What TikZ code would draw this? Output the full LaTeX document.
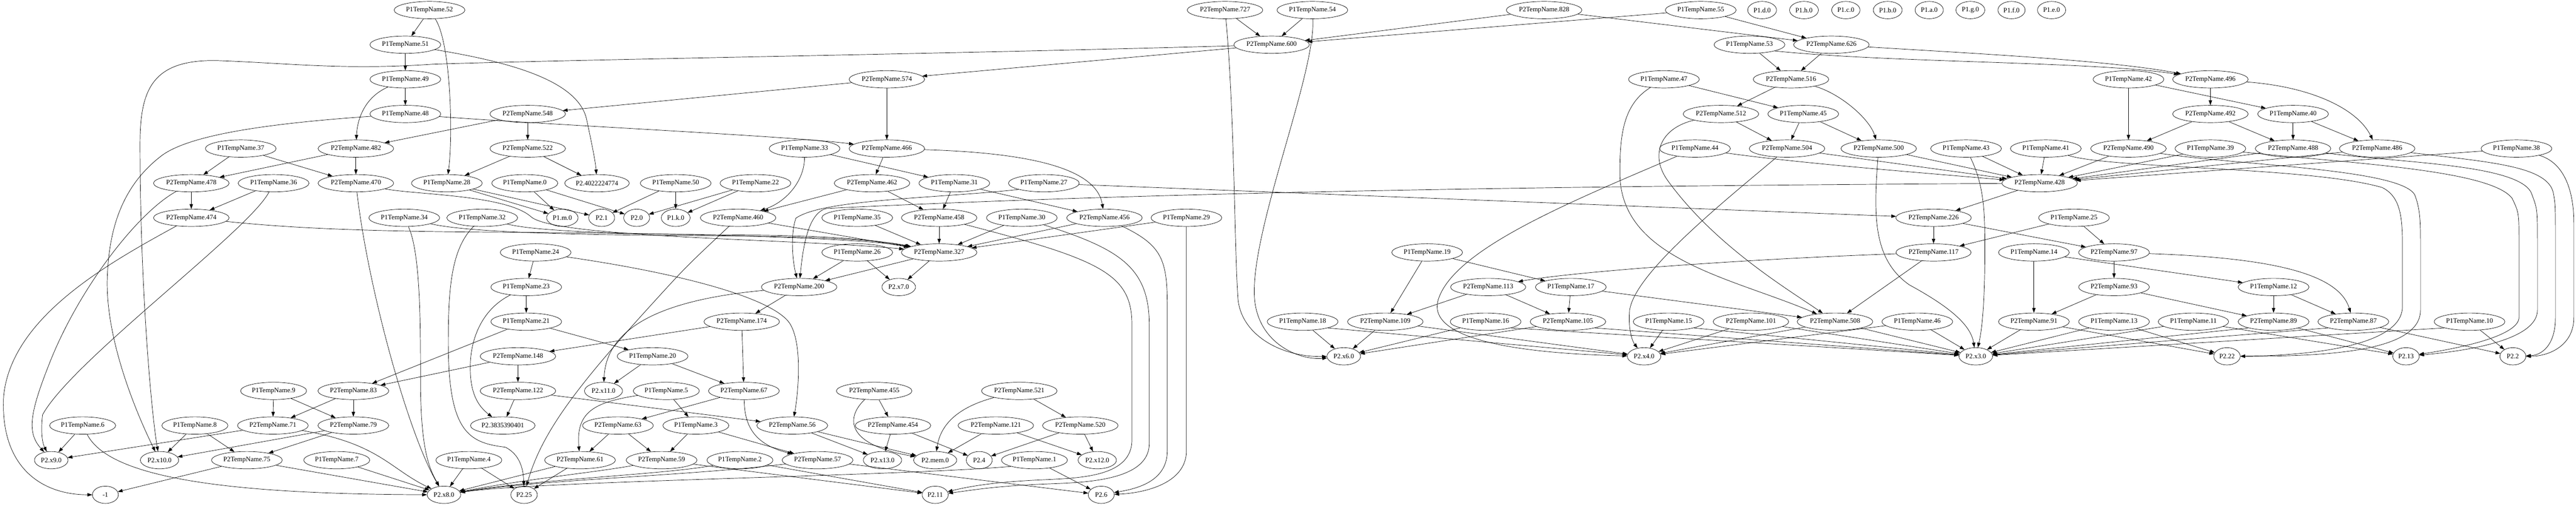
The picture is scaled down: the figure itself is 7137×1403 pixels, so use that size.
\documentclass[tikz,border=0pt]{standalone}
\usepackage{fontspec}
\setmainfont{Liberation Serif}
\usetikzlibrary{shapes.geometric, arrows.meta}

\begin{document}
\begin{tikzpicture}[x=0.75pt, y=-0.75pt,
	vx/.style={draw, ellipse, line width=0.75pt, inner xsep=3.3pt, inner ysep=1pt, minimum width=54pt, minimum height=36pt, font=\fontsize{14pt}{16pt}\selectfont},
	link/.style={line width=0.75pt, -{Triangle[length=10pt,width=7pt]}}]
	\useasboundingbox (0,0) rectangle (7137,1403);

	%rank 0
	\node[vx] (p1n52)  at (1190,28) {P1TempName.52};
	\node[vx] (p2n727) at (3394,28) {P2TempName.727};
	\node[vx] (p1n54)  at (3636,28) {P1TempName.54};
	\node[vx] (p2n828) at (4278,28) {P2TempName.828};
	\node[vx] (p1n55)  at (4712,28) {P1TempName.55};
	\node[vx] (ld) at (4882,28) {P1.d.0};
	\node[vx] (lh) at (4998,28) {P1.h.0};
	\node[vx] (lc) at (5114,28) {P1.c.0};
	\node[vx] (lb) at (5230,28) {P1.b.0};
	\node[vx] (la) at (5345,28) {P1.a.0};
	\node[vx] (lg) at (5459,28) {P1.g.0};
	\node[vx] (lf) at (5573,28) {P1.f.0};
	\node[vx] (le) at (5684,28) {P1.e.0};

	%rank 1
	\node[vx] (p1n51)  at (1123,124) {P1TempName.51};
	\node[vx] (p2n600) at (3523,124) {P2TempName.600};
	\node[vx] (p1n53)  at (4847,124) {P1TempName.53};
	\node[vx] (p2n626) at (5074,124) {P2TempName.626};

	%rank 2
	\node[vx] (p1n49)  at (1123,220) {P1TempName.49};
	\node[vx] (p2n574) at (2457,220) {P2TempName.574};
	\node[vx] (p1n47)  at (4610,220) {P1TempName.47};
	\node[vx] (p2n516) at (4962,220) {P2TempName.516};
	\node[vx] (p1n42)  at (5897,220) {P1TempName.42};
	\node[vx] (p2n496) at (6124,220) {P2TempName.496};

	%rank 3
	\node[vx] (p1n48)  at (1123,316) {P1TempName.48};
	\node[vx] (p2n548) at (1462,316) {P2TempName.548};
	\node[vx] (p2n512) at (4768,316) {P2TempName.512};
	\node[vx] (p1n45)  at (4996,316) {P1TempName.45};
	\node[vx] (p2n492) at (6124,316) {P2TempName.492};
	\node[vx] (p1n40)  at (6353,316) {P1TempName.40};

	%rank 4
	\node[vx] (p1n37)  at (667,412)  {P1TempName.37};
	\node[vx] (p2n482) at (986,412)  {P2TempName.482};
	\node[vx] (p2n522) at (1462,412) {P2TempName.522};
	\node[vx] (p1n33)  at (2229,412) {P1TempName.33};
	\node[vx] (p2n466) at (2457,412) {P2TempName.466};
	\node[vx] (p1n44)  at (4696,412) {P1TempName.44};
	\node[vx] (p2n504) at (4951,412) {P2TempName.504};
	\node[vx] (p2n500) at (5205,412) {P2TempName.500};
	\node[vx] (p1n43)  at (5447,412) {P1TempName.43};
	\node[vx] (p1n41)  at (5668,412) {P1TempName.41};
	\node[vx] (p2n490) at (5897,412) {P2TempName.490};
	\node[vx] (p1n39)  at (6124,412) {P1TempName.39};
	\node[vx] (p2n488) at (6353,412) {P2TempName.488};
	\node[vx] (p2n486) at (6586,412) {P2TempName.486};
	\node[vx] (p1n38)  at (6972,412) {P1TempName.38};

	%rank 5
	\node[vx] (p2n478) at (530,508)  {P2TempName.478};
	\node[vx] (p1n36)  at (758,508)  {P1TempName.36};
	\node[vx] (p2n470) at (986,508)  {P2TempName.470};
	\node[vx] (p1n28)  at (1238,508) {P1TempName.28};
	\node[vx] (p1n0)   at (1454,508) {P1TempName.0};
	\node[vx] (l4022)  at (1654,508) {P2.4022224774};
	\node[vx] (p1n50)  at (1872,508) {P1TempName.50};
	\node[vx] (p1n22)  at (2093,508) {P1TempName.22};
	\node[vx] (p2n462) at (2416,508) {P2TempName.462};
	\node[vx] (p1n31)  at (2644,508) {P1TempName.31};
	\node[vx] (p1n27)  at (2892,508) {P1TempName.27};
	\node[vx] (p2n428) at (5651,508) {P2TempName.428};

	%rank 6
	\node[vx] (p2n474) at (530,604)  {P2TempName.474};
	\node[vx] (p1n34)  at (1120,604) {P1TempName.34};
	\node[vx] (p1n32)  at (1336,604) {P1TempName.32};
	\node[vx] (lm) at (1558,604) {P1.m.0};
	\node[vx] (l1) at (1667,604) {P2.1};
	\node[vx] (l0) at (1764,604) {P2.0};
	\node[vx] (lk) at (1872,604) {P1.k.0};
	\node[vx] (p2n460) at (2045,604) {P2TempName.460};
	\node[vx] (p1n35)  at (2375,604) {P1TempName.35};
	\node[vx] (p2n458) at (2602,604) {P2TempName.458};
	\node[vx] (p1n30)  at (2831,604) {P1TempName.30};
	\node[vx] (p2n456) at (3060,604) {P2TempName.456};
	\node[vx] (p1n29)  at (3287,604) {P1TempName.29};
	\node[vx] (p2n226) at (5357,604) {P2TempName.226};
	\node[vx] (p1n25)  at (5746,604) {P1TempName.25};

	%rank 7
	\node[vx] (p1n24)  at (1484,700) {P1TempName.24};
	\node[vx] (p1n26)  at (2375,700) {P1TempName.26};
	\node[vx] (p2n327) at (2602,700) {P2TempName.327};
	\node[vx] (p1n19)  at (3954,700) {P1TempName.19};
	\node[vx] (p2n117) at (5357,700) {P2TempName.117};
	\node[vx] (p1n14)  at (5635,700) {P1TempName.14};
	\node[vx] (p2n97)  at (5857,700) {P2TempName.97};

	%rank 8
	\node[vx] (p1n23)  at (1458,796) {P1TempName.23};
	\node[vx] (p2n200) at (2214,796) {P2TempName.200};
	\node[vx] (lx7)    at (2490,796) {P2.x7.0};
	\node[vx] (p2n113) at (4123,796) {P2TempName.113};
	\node[vx] (p1n17)  at (4352,796) {P1TempName.17};
	\node[vx] (p2n93)  at (5857,796) {P2TempName.93};
	\node[vx] (p1n12)  at (6299,796) {P1TempName.12};

	%rank 9
	\node[vx] (p1n21)  at (1458,892) {P1TempName.21};
	\node[vx] (p2n174) at (2055,892) {P2TempName.174};
	\node[vx] (p1n18)  at (3609,892) {P1TempName.18};
	\node[vx] (p2n109) at (3838,892) {P2TempName.109};
	\node[vx] (p1n16)  at (4116,892) {P1TempName.16};
	\node[vx] (p2n105) at (4344,892) {P2TempName.105};
	\node[vx] (p1n15)  at (4623,892) {P1TempName.15};
	\node[vx] (p2n101) at (4851,892) {P2TempName.101};
	\node[vx] (p2n508) at (5084,892) {P2TempName.508};
	\node[vx] (p1n46)  at (5312,892) {P1TempName.46};
	\node[vx] (p2n91)  at (5635,892) {P2TempName.91};
	\node[vx] (p1n13)  at (5857,892) {P1TempName.13};
	\node[vx] (p1n11)  at (6077,892) {P1TempName.11};
	\node[vx] (p2n89)  at (6299,892) {P2TempName.89};
	\node[vx] (p2n87)  at (6520,892) {P2TempName.87};
	\node[vx] (p1n10)  at (6842,892) {P1TempName.10};

	%rank 10
	\node[vx] (p2n148) at (1435,988) {P2TempName.148};
	\node[vx] (p1n20)  at (1808,988) {P1TempName.20};
	\node[vx] (lx6) at (3723,988) {P2.x6.0};
	\node[vx] (lx4) at (4555,988) {P2.x4.0};
	\node[vx] (lx3) at (5474,988) {P2.x3.0};
	\node[vx] (l22) at (6170,988) {P2.22};
	\node[vx] (l13) at (6666,988) {P2.13};
	\node[vx] (l2)  at (6962,988) {P2.2};

	%rank 11
	\node[vx] (p1n9)   at (758,1084)  {P1TempName.9};
	\node[vx] (p2n83)  at (979,1084)  {P2TempName.83};
	\node[vx] (p2n122) at (1435,1084) {P2TempName.122};
	\node[vx] (lx11)   at (1672,1084) {P2.x11.0};
	\node[vx] (p1n5)   at (1846,1084) {P1TempName.5};
	\node[vx] (p2n67)  at (2061,1084) {P2TempName.67};
	\node[vx] (p2n455) at (2422,1084) {P2TempName.455};
	\node[vx] (p2n521) at (2824,1084) {P2TempName.521};

	%rank 12
	\node[vx] (p1n6)   at (229,1180)  {P1TempName.6};
	\node[vx] (p1n8)   at (540,1180)  {P1TempName.8};
	\node[vx] (p2n71)  at (756,1180)  {P2TempName.71};
	\node[vx] (p2n79)  at (979,1180)  {P2TempName.79};
	\node[vx] (l3835)  at (1393,1180) {P2.3835390401};
	\node[vx] (p2n63)  at (1712,1180) {P2TempName.63};
	\node[vx] (p1n3)   at (1928,1180) {P1TempName.3};
	\node[vx] (p2n56)  at (2195,1180) {P2TempName.56};
	\node[vx] (p2n454) at (2474,1180) {P2TempName.454};
	\node[vx] (p2n121) at (2759,1180) {P2TempName.121};
	\node[vx] (p2n520) at (2993,1180) {P2TempName.520};

	%rank 13
	\node[vx] (lx9)   at (142,1276)  {P2.x9.0};
	\node[vx] (lx10)  at (442,1276)  {P2.x10.0};
	\node[vx] (p2n75) at (684,1276)  {P2TempName.75};
	\node[vx] (p1n7)  at (933,1276)  {P1TempName.7};
	\node[vx] (p1n4)  at (1299,1276) {P1TempName.4};
	\node[vx] (p2n61) at (1607,1276) {P2TempName.61};
	\node[vx] (p2n59) at (1833,1276) {P2TempName.59};
	\node[vx] (p1n2)  at (2050,1276) {P1TempName.2};
	\node[vx] (p2n57) at (2265,1276) {P2TempName.57};
	\node[vx] (lx13)  at (2445,1276) {P2.x13.0};
	\node[vx] (lmem)  at (2591,1276) {P2.mem.0};
	\node[vx] (l4)    at (2713,1276) {P2.4};
	\node[vx] (p1n1)  at (2866,1276) {P1TempName.1};
	\node[vx] (lx12)  at (3040,1276) {P2.x12.0};

	%rank 14
	\node[vx] (lneg) at (292,1372)  {-1};
	\node[vx] (lx8)  at (1230,1372) {P2.x8.0};
	\node[vx] (l25)  at (1452,1372) {P2.25};
	\node[vx] (l11)  at (2591,1372) {P2.11};
	\node[vx] (l6)   at (3051,1372) {P2.6};

	%arrows - top left chain
	\draw[link] (p1n52) -- (p1n51);
	\draw[link] (p1n52) .. controls (1250,120) and (1255,380) .. (p1n28);
	\draw[link] (p1n51) -- (p1n49);
	\draw[link] (p1n51) .. controls (1400,170) and (1600,220) .. (1625,330) .. controls (1640,400) and (1650,450) .. (l4022);
	\draw[link] (p1n49) -- (p1n48);
	\draw[link] (p1n49) .. controls (1010,270) and (990,330) .. (p2n482);
	\draw[link] (p1n48) .. controls (700,345) and (520,380) .. (450,430) .. controls (330,520) and (300,650) .. (297,780) .. controls (295,950) and (380,1150) .. (lx10);
	\draw[link] (p1n48) .. controls (1500,345) and (2200,378) .. (p2n466);
	\draw[link] (p2n548) -- (p2n482);
	\draw[link] (p2n548) -- (p2n522);
	\draw[link] (p2n522) -- (p1n28);
	\draw[link] (p2n522) -- (l4022);
	\draw[link] (p2n482) -- (p2n478);
	\draw[link] (p2n482) -- (p2n470);
	\draw[link] (p1n37) -- (p2n478);
	\draw[link] (p1n37) -- (p2n470);
	\draw[link] (p2n478) -- (p2n474);
	\draw[link] (p2n478) .. controls (380,590) and (220,800) .. (140,1000) .. controls (80,1150) and (75,1200) .. (lx9);
	\draw[link] (p1n36) -- (p2n474);
	\draw[link] (p1n36) .. controls (690,640) and (200,1000) .. (118,1150) .. controls (112,1200) and (118,1230) .. (lx9);
	\draw[link] (p2n474) .. controls (300,730) and (30,880) .. (10,1100) .. controls (0,1300) and (120,1372) .. (lneg);

	%arrows - into P2TempName.327 from the left
	\draw[link] (p2n474) .. controls (800,632) and (1000,642) .. (1400,644) .. controls (2000,648) and (2400,662) .. (p2n327);
	\draw[link] (p1n34) .. controls (1300,645) and (1600,652) .. (2000,654) .. controls (2300,656) and (2450,668) .. (p2n327);
	\draw[link] (p1n32) .. controls (1500,645) and (1800,650) .. (2100,652) .. controls (2350,655) and (2450,670) .. (p2n327);
	\draw[link] (p2n470) .. controls (1150,540) and (1400,540) .. (1470,600) .. controls (1530,660) and (2200,662) .. (p2n327);
	\draw[link] (p2n470) .. controls (1020,800) and (1130,1200) .. (lx8);
	\draw[link] (p1n34) .. controls (1165,700) and (1165,900) .. (1165,1050) .. controls (1165,1250) and (1190,1300) .. (lx8);
	\draw[link] (p1n32) .. controls (1250,690) and (1242,800) .. (1242,950) .. controls (1242,1200) and (1300,1228) .. (1400,1240) .. controls (1440,1260) and (1450,1300) .. (l25);

	%arrows - P1 leaves
	\draw[link] (p1n28) -- (lm);
	\draw[link] (p1n28) -- (l1);
	\draw[link] (p1n0) -- (lm);
	\draw[link] (p1n0) -- (l0);
	\draw[link] (p1n50) -- (l1);
	\draw[link] (p1n50) -- (lk);
	\draw[link] (p1n22) -- (l0);
	\draw[link] (p1n22) -- (lk);

	%arrows - centre
	\draw[link] (p2n574) -- (p2n466);
	\draw[link] (p2n574) -- (p2n548);
	\draw[link] (p2n466) -- (p2n462);
	\draw[link] (p2n466) .. controls (2900,425) and (3040,480) .. (p2n456);
	\draw[link] (p1n33) -- (p1n31);
	\draw[link] (p1n33) .. controls (2229,500) and (2180,560) .. (p2n460);
	\draw[link] (p2n462) -- (p2n458);
	\draw[link] (p2n462) -- (p2n460);
	\draw[link] (p1n31) -- (p2n458);
	\draw[link] (p1n31) -- (p2n456);
	\draw[link] (p1n27.south west) .. controls (2600,550) and (2280,552) .. (2205,605) .. controls (2190,650) and (2195,720) .. (p2n200);
	\draw[link] (p1n27) -- (p2n226);
	\draw[link] (p2n428) .. controls (4500,515) and (3300,528) .. (2290,578) .. controls (2240,590) and (2225,680) .. (p2n200);
	\draw[link] (p1n26) -- (p2n200);
	\draw[link] (p1n26) -- (lx7);
	\draw[link] (p2n327) -- (p2n200);
	\draw[link] (p2n327) -- (lx7);
	\draw[link] (p2n460) -- (p2n327);
	\draw[link] (p1n35) -- (p2n327);
	\draw[link] (p2n458) -- (p2n327);
	\draw[link] (p1n30) -- (p2n327);
	\draw[link] (p2n456) -- (p2n327);
	\draw[link] (p1n29) -- (p2n327);
	\draw[link] (p2n460) .. controls (1900,740) .. (1800,850) .. controls (1600,1070) and (1500,1200) .. (l25);
	\draw[link] (p1n24) -- (p1n23);
	\draw[link] (p1n24) .. controls (1900,760) and (2150,830) .. (2190,900) .. controls (2225,960) and (2210,1100) .. (p2n56);
	\draw[link] (p1n23) -- (p1n21);
	\draw[link] (p1n23) .. controls (1330,860) and (1300,950) .. (1303,1030) .. controls (1305,1100) and (1330,1130) .. (l3835);
	\draw[link] (p1n21) -- (p1n20);
	\draw[link] (p1n21) -- (p2n83);
	\draw[link] (p2n148) -- (p2n83);
	\draw[link] (p2n148) -- (p2n122);
	\draw[link] (p2n174) -- (p2n148);
	\draw[link] (p2n174) -- (p2n67);
	\draw[link] (p2n200) -- (p2n174);
	\draw[link] (p2n200) .. controls (1850,830) and (1680,900) .. (lx11);
	\draw[link] (p1n20) -- (lx11);
	\draw[link] (p1n20) -- (p2n67);
	\draw[link] (p2n122) -- (l3835);
	\draw[link] (p2n122) -- (p2n56);
	\draw[link] (p1n5) -- (p1n3);
	\draw[link] (p1n5) .. controls (1650,1115) and (1595,1140) .. (p2n61);
	\draw[link] (p2n67) -- (p2n63);
	\draw[link] (p2n67) .. controls (2063,1170) and (2080,1230) .. (p2n57);
	\draw[link] (p2n63) -- (p2n61);
	\draw[link] (p2n63) -- (p2n59);
	\draw[link] (p1n3) -- (p2n59);
	\draw[link] (p1n3) -- (p2n57);
	\draw[link] (p2n56) -- (lx13);
	\draw[link] (p2n56) -- (lmem);
	\draw[link] (p2n455) -- (p2n454);
	\draw[link] (p2n455) .. controls (2350,1150) and (2330,1230) .. (lmem);
	\draw[link] (p2n521) -- (p2n520);
	\draw[link] (p2n521) .. controls (2650,1130) and (2605,1180) .. (lmem);
	\draw[link] (p2n454) -- (lx13);
	\draw[link] (p2n454) -- (l4);
	\draw[link] (p2n121) -- (lmem);
	\draw[link] (p2n121) -- (lx12);
	\draw[link] (p2n520) -- (l4);
	\draw[link] (p2n520) -- (lx12);

	%arrows - bottom row
	\draw[link] (p2n61) -- (lx8);
	\draw[link] (p2n61) -- (l25);
	\draw[link] (p1n4) -- (lx8);
	\draw[link] (p1n4) -- (l25);
	\draw[link] (p2n59) .. controls (1650,1310) and (1480,1325) .. (lx8);
	\draw[link] (p2n59) -- (l11);
	\draw[link] (p1n2) .. controls (1850,1315) and (1500,1328) .. (lx8);
	\draw[link] (p1n2) -- (l11);
	\draw[link] (p2n57) .. controls (1900,1320) and (1500,1330) .. (lx8);
	\draw[link] (p2n57) -- (l6);
	\draw[link] (p1n1.south west) .. controls (2500,1320) and (1500,1333) .. (lx8);
	\draw[link] (p1n1) -- (l6);

	%arrows - long drops to P2.11 and P2.6
	\draw[link] (p2n458) .. controls (3050,720) and (3136,760) .. (3136,900) -- (3136,1220) .. controls (3136,1320) and (3000,1325) .. (2900,1330) .. controls (2750,1336) and (2680,1350) .. (l11);
	\draw[link] (p1n30) .. controls (3100,690) and (3184,740) .. (3184,900) -- (3184,1230) .. controls (3184,1335) and (3000,1338) .. (2900,1342) .. controls (2750,1348) and (2690,1360) .. (l11);
	\draw[link] (p2n456) .. controls (3220,680) and (3234,720) .. (3234,850) -- (3234,1250) .. controls (3234,1335) and (3150,1355) .. (l6);
	\draw[link] (p1n29) .. controls (3287,700) .. (3287,800) -- (3287,1250) .. controls (3287,1345) and (3160,1368) .. (l6);

	%arrows - top centre
	\draw[link] (p2n600) -- (p2n574);
	\draw[link] (p2n600) .. controls (2600,150) and (1600,165) .. (1200,178) .. controls (950,195) and (800,175) .. (600,168) .. controls (420,165) and (388,250) .. (388,400) .. controls (388,800) and (420,1150) .. (lx10);
	\draw[link] (p1n54) -- (p2n600);
	\draw[link] (p1n54) .. controls (3645,200) and (3480,600) .. (3475,800) .. controls (3470,950) and (3600,1000) .. (lx6);
	\draw[link] (p2n727) -- (p2n600);
	\draw[link] (p2n727) .. controls (3420,300) and (3420,700) .. (3430,830) .. controls (3440,930) and (3550,990) .. (lx6);
	\draw[link] (p2n828) -- (p2n600);
	\draw[link] (p2n828) -- (p2n626);
	\draw[link] (p1n55) -- (p2n626);
	\draw[link] (p1n55) -- (p2n600);

	%arrows - top right
	\draw[link] (p1n53) -- (p2n516);
	\draw[link] (p1n53.south east) .. controls (5250,175) and (5800,170) .. (p2n496);
	\draw[link] (p2n626) -- (p2n516);
	\draw[link] (p2n626) .. controls (5500,150) and (5850,168) .. (p2n496);
	\draw[link] (p2n516) -- (p2n512);
	\draw[link] (p2n516) .. controls (5100,260) and (5180,330) .. (p2n500);
	\draw[link] (p1n47) -- (p1n45);
	\draw[link] (p1n47) .. controls (4495,290) and (4488,380) .. (4488,480) .. controls (4488,720) and (4800,770) .. (p2n508);
	\draw[link] (p2n512) -- (p2n504);
	\draw[link] (p2n512) .. controls (4600,355) and (4570,430) .. (4620,500) .. controls (4750,680) and (4950,800) .. (p2n508);
	\draw[link] (p1n45) -- (p2n504);
	\draw[link] (p1n45) -- (p2n500);
	\draw[link] (p1n44) .. controls (5000,455) and (5400,485) .. (p2n428);
	\draw[link] (p1n44) .. controls (4350,560) and (4030,690) .. (3985,830) .. controls (3950,940) and (4200,980) .. (lx4);
	\draw[link] (p2n504) -- (p2n428);
	\draw[link] (p2n504) .. controls (4750,580) and (4530,760) .. (4515,860) .. controls (4510,920) and (4525,950) .. (lx4);
	\draw[link] (p2n500) -- (p2n428);
	\draw[link] (p2n500) .. controls (5190,600) and (5190,720) .. (5290,790) .. controls (5400,850) and (5460,900) .. (lx3);
	\draw[link] (p1n43) -- (p2n428);
	\draw[link] (p1n43) .. controls (5500,520) and (5499,600) .. (5499,700) .. controls (5499,850) and (5490,920) .. (lx3);
	\draw[link] (p1n42) -- (p2n490);
	\draw[link] (p1n42) -- (p1n40);
	\draw[link] (p2n496) -- (p2n492);
	\draw[link] (p2n496) .. controls (6400,240) and (6530,300) .. (p2n486);
	\draw[link] (p2n492) -- (p2n490);
	\draw[link] (p2n492) -- (p2n488);
	\draw[link] (p1n40) -- (p2n488);
	\draw[link] (p1n40) -- (p2n486);

	%arrows - right hand loops
	\draw[link] (p1n41) -- (p2n428);
	\draw[link] (p1n41) .. controls (5850,468) and (6400,462) .. (6600,520) .. controls (6650,545) and (6656,600) .. (6656,680) -- (6656,850) .. controls (6656,960) and (6400,986) .. (l22);
	\draw[link] (p2n490) -- (p2n428);
	\draw[link] (p2n490) .. controls (6200,458) and (6650,468) .. (6690,540) .. controls (6706,580) and (6706,620) .. (6706,680) -- (6706,860) .. controls (6706,975) and (6450,988) .. (l22);
	\draw[link] (p1n39) -- (p2n428);
	\draw[link] (p1n39) .. controls (6500,452) and (6900,470) .. (6960,550) .. controls (6979,590) .. (6979,680) -- (6979,880) .. controls (6979,925) and (6850,960) .. (l13);
	\draw[link] (p2n488) -- (p2n428);
	\draw[link] (p2n488) .. controls (6650,452) and (6990,455) .. (7015,540) .. controls (7030,580) .. (7030,680) -- (7030,860) .. controls (7030,935) and (6870,970) .. (l13);
	\draw[link] (p2n486) -- (p2n428);
	\draw[link] (p2n486) .. controls (6900,450) and (7065,460) .. (7075,540) .. controls (7080,570) .. (7080,680) -- (7080,880) .. controls (7080,960) and (7040,985) .. (l2);
	\draw[link] (p1n38) -- (p2n428);
	\draw[link] (p1n38) .. controls (7100,450) and (7131,520) .. (7131,620) -- (7131,880) .. controls (7131,960) and (7060,988) .. (l2);

	%arrows - lower right
	\draw[link] (p2n428) -- (p2n226);
	\draw[link] (p2n226) -- (p2n117);
	\draw[link] (p2n226) -- (p2n97);
	\draw[link] (p1n25) -- (p2n117);
	\draw[link] (p1n25) -- (p2n97);
	\draw[link] (p2n117) .. controls (4800,720) and (4350,755) .. (p2n113);
	\draw[link] (p2n117) -- (p2n508);
	\draw[link] (p1n14) -- (p2n91);
	\draw[link] (p1n14) -- (p1n12);
	\draw[link] (p2n97) -- (p2n93);
	\draw[link] (p2n97) .. controls (6300,715) and (6480,760) .. (p2n87);
	\draw[link] (p2n93) -- (p2n91);
	\draw[link] (p2n93) -- (p2n89);
	\draw[link] (p1n12) -- (p2n89);
	\draw[link] (p1n12) -- (p2n87);
	\draw[link] (p2n113) -- (p2n109);
	\draw[link] (p2n113) -- (p2n105);
	\draw[link] (p1n19) -- (p2n109);
	\draw[link] (p1n19) -- (p1n17);
	\draw[link] (p1n17) -- (p2n105);
	\draw[link] (p1n17) -- (p2n508);

	%arrows - rank 9 to leaves
	\draw[link] (p1n18) -- (lx6);
	\draw[link] (p1n18.south east) -- (lx4);
	\draw[link] (p2n109) -- (lx6);
	\draw[link] (p2n109) -- (lx4);
	\draw[link] (p1n16) -- (lx6);
	\draw[link] (p1n16.south east) -- (lx3);
	\draw[link] (p2n105) -- (lx6);
	\draw[link] (p2n105.south east) -- (lx3);
	\draw[link] (p1n15) -- (lx4);
	\draw[link] (p1n15.south east) -- (lx3);
	\draw[link] (p2n101) -- (lx4);
	\draw[link] (p2n101) -- (lx3);
	\draw[link] (p2n508) -- (lx4);
	\draw[link] (p2n508) -- (lx3);
	\draw[link] (p1n46) -- (lx4);
	\draw[link] (p1n46) -- (lx3);
	\draw[link] (p2n91) -- (lx3);
	\draw[link] (p2n91) -- (l22);
	\draw[link] (p1n13) -- (lx3);
	\draw[link] (p1n13) -- (l22);
	\draw[link] (p1n11) -- (lx3);
	\draw[link] (p1n11) -- (l13);
	\draw[link] (p2n89.south west) -- (lx3);
	\draw[link] (p2n89) -- (l13);
	\draw[link] (p2n87.south west) -- (lx3);
	\draw[link] (p2n87) -- (l2);
	\draw[link] (p1n10.south west) -- (lx3);
	\draw[link] (p1n10) -- (l2);

	%arrows - bottom left
	\draw[link] (p1n9) -- (p2n71);
	\draw[link] (p1n9) -- (p2n79);
	\draw[link] (p2n83) -- (p2n71);
	\draw[link] (p2n83) -- (p2n79);
	\draw[link] (p1n6) -- (lx9);
	\draw[link] (p1n6) .. controls (300,1320) and (600,1370) .. (lx8);
	\draw[link] (p1n8) -- (lx10);
	\draw[link] (p1n8) -- (p2n75);
	\draw[link] (p2n71) -- (lx9);
	\draw[link] (p2n71) .. controls (1050,1230) and (1080,1300) .. (lx8);
	\draw[link] (p2n79) -- (lx10);
	\draw[link] (p2n79) -- (p2n75);
	\draw[link] (p2n75) -- (lneg);
	\draw[link] (p2n75) -- (lx8);
	\draw[link] (p1n7) -- (lx8);
\end{tikzpicture}
\end{document}
